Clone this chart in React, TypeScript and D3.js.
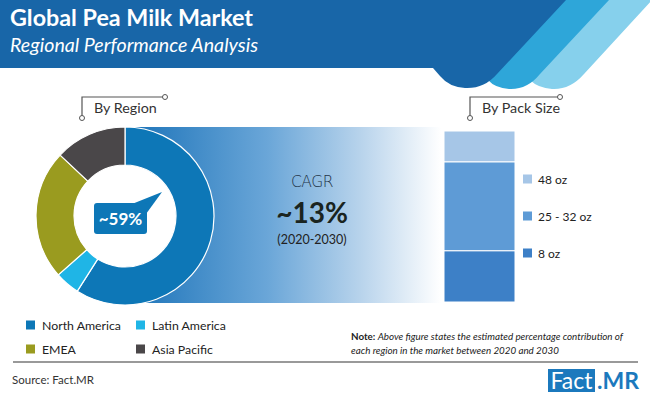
import { useEffect, useRef } from "react";
import * as d3 from "d3";

const W = 650;
const H = 399;

// region share (%), read from the donut
const regions = ["North America", "Latin America", "EMEA", "Asia Pacific"];
const regionShare = [59, 4.5, 23.5, 13];
const regionColors = ["#0d77b7", "#1fb5e6", "#9a9b1f", "#4a4749"];

// pack size share (%), bottom to top
const packSizes = ["8 oz", "25 - 32 oz", "48 oz"];
const packShare = [30, 52, 18];
const packColors = ["#3d80c7", "#5e9bd6", "#a6c6e7"];

const FONT = "Lato, 'Open Sans', sans-serif";

export default function App() {
  const svgRef = useRef<SVGSVGElement>(null);

  useEffect(() => {
    document.body.style.margin = "0";
    if (!svgRef.current) return;
    const svg = d3.select(svgRef.current);
    svg.selectAll("*").remove();

    const defs = svg.append("defs");
    const grad = defs.append("linearGradient").attr("id", "band-grad")
      .attr("x1", "0%").attr("x2", "100%").attr("y1", "0%").attr("y2", "0%");
    grad.append("stop").attr("offset", "0%").attr("stop-color", "#1a72b8");
    grad.append("stop").attr("offset", "45%").attr("stop-color", "#6aa6d8");
    grad.append("stop").attr("offset", "75%").attr("stop-color", "#b9d4ec");
    grad.append("stop").attr("offset", "100%").attr("stop-color", "#ffffff");

    svg.append("rect").attr("width", W).attr("height", H).attr("fill", "#fff");

    // ============ HEADER ============
    const header = svg.append("g");
    header.append("path")
      .attr("d", "M522,0 H652 L584,74 Q570,90 552,89 Q538,88 530,80 Z")
      .attr("fill", "#86d0ec");
    header.append("path")
      .attr("d", "M478,0 H609 L540,74 Q527,90 509,89 Q495,88 488,80 Z")
      .attr("fill", "#2ea6d9");
    header.append("path")
      .attr("d", "M0,0 H566 L497,74 Q484,89 465,88 Q449,87 440,76 L433,68 H0 Z")
      .attr("fill", "#1866a8");

    header.append("text").attr("x", 10).attr("y", 26)
      .attr("font-family", FONT).attr("font-weight", 700).attr("font-size", 22)
      .attr("textLength", 243).attr("lengthAdjust", "spacingAndGlyphs")
      .attr("fill", "#fff").text("Global Pea Milk Market");
    header.append("text").attr("x", 10).attr("y", 52)
      .attr("font-family", FONT).attr("font-style", "italic").attr("font-size", 18.5)
      .attr("textLength", 248).attr("lengthAdjust", "spacingAndGlyphs")
      .attr("fill", "#fff").text("Regional Performance Analysis");

    // ============ GRADIENT BAND ============
    svg.append("rect").attr("x", 125).attr("y", 127).attr("width", 316).attr("height", 176)
      .attr("fill", "url(#band-grad)");

    // ============ BRACKET LABELS ============
    const bracket = (x0: number, x1: number, label: string) => {
      const g = svg.append("g");
      g.append("path").attr("d", `M${x0},118 V97 H${x1}`)
        .attr("fill", "none").attr("stroke", "#555").attr("stroke-width", 1.2);
      [[x0, 118], [x1, 97]].forEach(([cx, cy]) =>
        g.append("circle").attr("cx", cx).attr("cy", cy).attr("r", 2.5)
          .attr("fill", "#fff").attr("stroke", "#555").attr("stroke-width", 1));
      g.append("text").attr("x", x0 + 12).attr("y", 113)
        .attr("font-family", FONT).attr("font-size", 14.3).attr("fill", "#333").text(label);
    };
    bracket(82, 165, "By Region");
    bracket(470, 560, "By Pack Size");

    // ============ DONUT ============
    const cx = 125, cy = 216;
    const pie = d3.pie<number>().sort(null).value((d) => d);
    const arc = d3.arc<d3.PieArcDatum<number>>().innerRadius(51).outerRadius(89);
    const donut = svg.append("g").attr("transform", `translate(${cx},${cy})`);
    donut.append("circle").attr("r", 51).attr("fill", "#fff");
    donut.selectAll("path").data(pie(regionShare)).join("path")
      .attr("d", arc)
      .attr("fill", (_, i) => regionColors[i])
      .attr("stroke", "#fff").attr("stroke-width", 1.2);

    // speech bubble
    const bub = svg.append("g");
    bub.append("path")
      .attr("d", "M132,204 L162,192 L146,214 Z").attr("fill", regionColors[0]);
    bub.append("rect").attr("x", 94).attr("y", 203).attr("width", 53).attr("height", 31)
      .attr("rx", 3).attr("fill", regionColors[0]);
    bub.append("text").attr("x", 120.5).attr("y", 225).attr("text-anchor", "middle")
      .attr("font-family", FONT).attr("font-weight", 700).attr("font-size", 17)
      .attr("fill", "#fff").text(`~${regionShare[0]}%`);

    // ============ CAGR ============
    const cagr = svg.append("g").attr("text-anchor", "middle");
    cagr.append("text").attr("x", 312).attr("y", 187)
      .attr("font-family", "'DejaVu Sans', sans-serif").attr("font-weight", 300)
      .attr("font-size", 15.5).attr("fill", "#1f3347").attr("letter-spacing", -0.5).text("CAGR");
    cagr.append("text").attr("x", 312).attr("y", 223)
      .attr("font-family", FONT).attr("font-weight", 700).attr("font-size", 28)
      .attr("fill", "#1a2420").text("~13%");
    cagr.append("text").attr("x", 312).attr("y", 244)
      .attr("font-family", FONT).attr("font-size", 12.5).attr("fill", "#222").text("(2020-2030)");

    // ============ PACK SIZE STACK ============
    const y = d3.scaleLinear().domain([0, d3.sum(packShare)]).range([302, 131]);
    const stacked = packShare.map((v, i) => ({ v, start: d3.sum(packShare.slice(0, i)) }));
    svg.append("g").selectAll("rect").data(stacked).join("rect")
      .attr("x", 444).attr("width", 71)
      .attr("y", (d) => y(d.start + d.v))
      .attr("height", (d) => y(d.start) - y(d.start + d.v))
      .attr("fill", (_, i) => packColors[i])
      .attr("stroke", "#fff").attr("stroke-width", 1);

    const packLegendY = [253, 216, 179];
    const pl = svg.append("g");
    packSizes.forEach((p, i) => {
      pl.append("rect").attr("x", 523).attr("y", packLegendY[i] - 4.5).attr("width", 9).attr("height", 9)
        .attr("fill", packColors[i]);
      pl.append("text").attr("x", 538).attr("y", packLegendY[i] + 4.5)
        .attr("font-family", FONT).attr("font-size", 12).attr("fill", "#222").text(p);
    });

    // ============ REGION LEGEND ============
    const legX = [26, 136];
    const legY = [325, 349];
    const rl = svg.append("g");
    regions.forEach((r, i) => {
      const lx = legX[i % 2], ly = legY[Math.floor(i / 2)];
      rl.append("rect").attr("x", lx).attr("y", ly - 4.5).attr("width", 9).attr("height", 9)
        .attr("fill", regionColors[i]);
      rl.append("text").attr("x", lx + 16).attr("y", ly + 4.5)
        .attr("font-family", FONT).attr("font-size", 12.3).attr("fill", "#222").text(r);
    });

    // ============ NOTE / FOOTER ============
    const note = svg.append("g").attr("font-family", FONT).attr("font-size", 9.8).attr("fill", "#222");
    const n1 = note.append("text").attr("x", 351).attr("y", 340);
    n1.append("tspan").attr("font-weight", 700).text("Note: ");
    n1.append("tspan").attr("font-style", "italic").text("Above figure states the estimated percentage contribution of");
    note.append("text").attr("x", 351).attr("y", 354).attr("font-style", "italic")
      .text("each region in the market between 2020 and 2030");

    svg.append("line").attr("x1", 13).attr("x2", 638).attr("y1", 362).attr("y2", 362)
      .attr("stroke", "#777").attr("stroke-width", 1.5);

    svg.append("text").attr("x", 12).attr("y", 384)
      .attr("font-family", FONT).attr("font-size", 11.5).attr("fill", "#333").text("Source: Fact.MR");

    svg.append("rect").attr("x", 548).attr("y", 369).attr("width", 47).attr("height", 23).attr("fill", "#1b79bd");
    svg.append("text").attr("x", 571.5).attr("y", 389).attr("text-anchor", "middle")
      .attr("font-family", FONT).attr("font-size", 23).attr("fill", "#fff").text("Fact");
    svg.append("text").attr("x", 597).attr("y", 389)
      .attr("font-family", FONT).attr("font-weight", 700).attr("font-size", 23).attr("fill", "#1b79bd").text(".MR");
  }, []);

  return (
    <svg ref={svgRef} width={W} height={H} style={{ position: "fixed", left: 0, top: 0, display: "block" }} />
  );
}
